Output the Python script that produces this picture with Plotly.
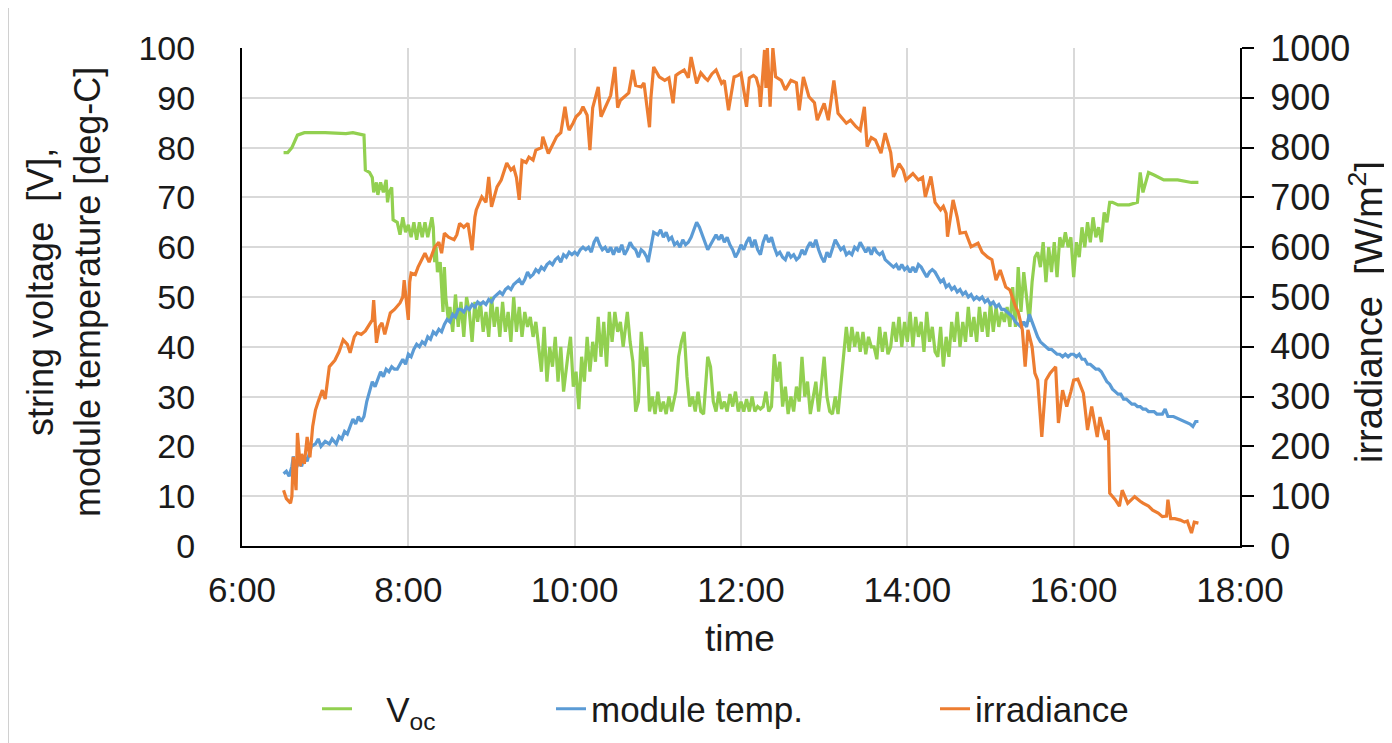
import plotly.graph_objects as go

# ---------------- data (time of day, value) ----------------
VOC = [
("6:30",79),("6:33",79),("6:36",80),("6:40",82.5),("6:45",83),("7:00",83),("7:15",82.8),("7:20",83),
("7:28",82.5),("7:29",75.5),("7:32",75),("7:34",74),("7:35",71),("7:37",73),("7:38",70.5),("7:40",73),
("7:42",71),("7:44",73.5),("7:45",69),("7:46",71),("7:48",72),("7:49",65.5),("7:52",65),("7:54",62.5),
("7:56",66),("7:58",63),("8:00",64.5),("8:02",62),("8:04",65),("8:06",61.5),("8:08",65),("8:10",62),
("8:12",65),("8:14",62),("8:17",66),("8:18",64),("8:19",57),("8:20",60),("8:21",55),("8:23",57),
("8:25",47),("8:26",56),("8:27",50),("8:29",45),("8:30",48),("8:32",43),("8:34",50.5),("8:36",44),
("8:38",49),("8:40",42),("8:42",50),("8:44",47),("8:46",41),("8:48",49),("8:50",45),("8:52",49),
("8:54",43),("8:56",47),("8:58",42),("9:00",50),("9:02",44),("9:04",48),("9:06",42),("9:08",49),
("9:10",43),("9:12",47),("9:14",41),("9:16",50),("9:18",43),("9:20",48),("9:22",42),("9:24",47),
("9:26",44),("9:28",46),("9:30",42),("9:32",45),("9:34",40),("9:36",35),("9:38",44),("9:40",33),
("9:42",40),("9:44",36),("9:46",42),("9:48",33),("9:50",40),("9:52",31),("9:55",38),("9:57",42),
("9:59",32),("10:01",35),("10:03",27.5),("10:05",38),("10:07",33),("10:09",42),("10:11",35),("10:13",41),
("10:15",37),("10:17",46),("10:19",38),("10:21",45),("10:23",36),("10:25",47),("10:27",41),("10:29",47),
("10:31",43),("10:33",45),("10:35",40),("10:38",47),("10:40",41),("10:42",37),("10:44",27),("10:46",29),
("10:48",43),("10:50",36),("10:52",40),("10:54",27),("10:56",30),("10:58",26.5),("11:00",31),("11:02",27),
("11:04",29),("11:06",26.5),("11:08",30),("11:10",27),("11:13",31),("11:15",38),("11:17",41),("11:19",43),
("11:21",34),("11:23",28),("11:25",30),("11:27",27),("11:29",31),("11:31",27),("11:33",26.5),("11:36",38),
("11:38",36),("11:40",29),("11:42",27),("11:44",31),("11:46",27.5),("11:48",29),("11:50",27),("11:52",30.5),
("11:54",28),("11:56",31),("11:58",27),("12:00",29),("12:02",27),("12:04",29.5),("12:06",27),("12:08",30),
("12:10",27),("12:12",28),("12:14",27.5),("12:16",28),("12:18",31),("12:20",27),("12:22",28),("12:24",38.5),
("12:26",33),("12:28",37),("12:30",28),("12:32",32),("12:34",26.5),("12:36",30),("12:38",27),("12:40",32),
("12:42",29),("12:44",38),("12:46",30),("12:48",33),("12:50",26.5),("12:52",30),("12:54",33),("12:56",27),
("12:58",32),("13:00",38),("13:02",30),("13:04",27),("13:06",26.5),("13:08",30),("13:10",26.5),("13:12",32),
("13:14",38),("13:16",44),("13:18",39),("13:20",44),("13:22",40),("13:24",43),("13:26",39),("13:28",43),
("13:30",38.5),("13:32",42),("13:34",40),("13:36",40),("13:38",37.5),("13:40",44),("13:42",39),("13:44",43),
("13:46",38.5),("13:48",40),("13:50",45),("13:52",41),("13:54",46),("13:56",40),("13:58",45),("14:00",41),
("14:02",47),("14:04",40),("14:06",46),("14:08",42),("14:10",45),("14:12",39),("14:14",47),("14:16",41),
("14:18",44),("14:20",39),("14:22",38),("14:24",44),("14:26",36),("14:28",42),("14:30",38),("14:32",45),
("14:34",41),("14:36",47),("14:38",40),("14:40",45),("14:42",41),("14:44",48),("14:46",42),("14:48",46),
("14:50",41),("14:52",48),("14:54",43),("14:56",47),("14:58",42),("15:00",49),("15:02",43),("15:04",48),
("15:06",44),("15:08",47),("15:10",45),("15:12",48),("15:14",44),("15:16",52),("15:18",44),("15:20",56),
("15:22",47),("15:24",55),("15:26",50),("15:28",45),("15:30",53),("15:32",58),("15:34",59),("15:36",56),
("15:38",61),("15:40",53),("15:42",60),("15:44",55),("15:46",61),("15:48",54),("15:50",62),("15:52",60),
("15:54",63),("15:56",60),("15:58",62),("16:00",54),("16:02",61),("16:04",58),("16:06",64),("16:08",60),
("16:10",65),("16:12",61),("16:14",66),("16:16",62),("16:18",64),("16:20",61),("16:22",67),("16:24",65),
("16:26",69),("16:28",69),("16:32",68.5),("16:40",68.5),("16:46",69),("16:48",75),("16:49",73),("16:50",71),
("16:51",72),("16:54",75),("16:58",74.5),("17:05",73.5),("17:15",73.5),("17:25",73),("17:30",73),
]

TEMP = [
("6:30",14.5),("6:32",15),("6:34",14),("6:36",16),("6:37",18),("6:39",15.5),("6:41",17),("6:43",16),
("6:45",18),("6:47",17),("6:50",20),("6:53",20.5),("6:55",21.5),("6:57",20),("7:00",21),("7:03",20.5),
("7:05",21.5),("7:08",20.5),("7:10",22),("7:12",21.5),("7:14",23),("7:16",22.5),("7:18",24),("7:20",25.5),
("7:22",24.5),("7:24",26),("7:26",25),("7:28",26),("7:30",29),("7:32",31),("7:34",33),("7:36",32),
("7:38",33.5),("7:40",35),("7:42",34),("7:44",35.5),("7:46",35),("7:48",36),("7:50",35.5),("7:52",35.5),
("7:54",36.5),("7:56",37.5),("7:58",36.5),("8:00",38.5),("8:02",38),("8:04",39.5),("8:06",40.5),("8:08",40),
("8:10",41),("8:12",40.5),("8:14",42),("8:16",41.5),("8:18",43),("8:20",42.5),("8:22",43.5),("8:24",43),
("8:26",44.5),("8:28",45.5),("8:30",45),("8:32",46.5),("8:34",46),("8:36",47.5),("8:38",47.5),("8:40",47),
("8:42",48),("8:44",47.5),("8:46",48.5),("8:48",48),("8:50",49),("8:52",48.5),("8:54",49),("8:56",48.5),
("8:58",49.5),("9:00",49),("9:02",50),("9:04",50.5),("9:06",51),("9:08",50.5),("9:10",51.5),("9:12",52),
("9:14",51.5),("9:16",52.5),("9:18",53),("9:20",53.5),("9:22",52.5),("9:24",53.5),("9:26",55),("9:28",54),
("9:30",54.5),("9:32",55.5),("9:34",55),("9:36",56),("9:38",55.5),("9:40",56.5),("9:42",57),("9:44",56.5),
("9:46",57.5),("9:48",58),("9:50",57),("9:52",58.5),("9:54",58),("9:56",59),("9:58",58.5),("10:00",59),
("10:02",58.5),("10:04",59.5),("10:06",60),("10:08",59.5),("10:10",60),("10:12",59),("10:14",61),("10:16",62),
("10:18",60.5),("10:20",59.5),("10:22",60),("10:24",59),("10:26",60),("10:28",58.5),("10:30",60),("10:32",59),
("10:34",60.5),("10:36",58.5),("10:38",59.5),("10:40",61),("10:42",60),("10:44",59.5),("10:46",58),("10:48",59.5),
("10:50",59),("10:52",58),("10:53",57),("10:55",60.5),("10:57",63),("11:00",62.5),("11:02",63.5),("11:04",62),
("11:06",63),("11:08",61.5),("11:10",62),("11:12",60.5),("11:14",61),("11:16",60),("11:18",61.5),("11:20",60.5),
("11:22",61),("11:24",62),("11:26",63.5),("11:28",65),("11:30",64),("11:32",62.5),("11:34",61),("11:36",59.5),
("11:38",60.5),("11:40",61.5),("11:42",62.5),("11:44",61.5),("11:46",62.5),("11:48",61),("11:50",62),("11:52",60.5),
("11:54",59.5),("11:56",58),("11:58",59),("12:00",60.5),("12:02",59.5),("12:04",61),("12:06",62),("12:08",60),
("12:10",61.5),("12:12",59.5),("12:14",58.5),("12:16",61),("12:18",62.5),("12:20",61),("12:22",62),("12:24",60),
("12:26",58.5),("12:28",59),("12:30",58),("12:32",57.5),("12:34",59),("12:36",58),("12:38",58.5),("12:40",57.5),
("12:42",58),("12:44",59.5),("12:46",58.5),("12:48",60),("12:50",61),("12:52",60),("12:54",61.5),("12:56",59.5),
("12:58",58),("13:00",57),("13:02",59),("13:04",58),("13:06",60),("13:08",61.5),("13:10",60.5),("13:12",59.5),
("13:14",60),("13:16",58.5),("13:18",59),("13:20",58.5),("13:22",60),("13:24",59.5),("13:26",61),("13:28",60),
("13:30",59),("13:32",60),("13:34",58.5),("13:36",60),("13:38",59),("13:40",58.5),("13:42",59),("13:44",57.5),
("13:46",57),("13:48",56.5),("13:50",56),("13:52",56.5),("13:54",55.5),("13:56",56.5),("13:58",55.5),("14:00",56),
("14:02",55),("14:04",56),("14:06",55),("14:08",56.5),("14:10",56),("14:12",55),("14:14",54),("14:16",55),
("14:18",55.5),("14:20",55),("14:22",54),("14:24",53),("14:26",53.5),("14:28",52),("14:30",52.5),("14:32",51.5),
("14:34",52),("14:36",51),("14:38",51.5),("14:40",50.5),("14:42",51),("14:44",50),("14:46",50.5),("14:48",49.5),
("14:50",50),("14:52",49.5),("14:54",50),("14:56",49),("14:58",49.5),("15:00",48.5),("15:02",49),("15:04",48),
("15:06",48.5),("15:08",47.5),("15:10",47.5),("15:12",47),("15:14",46.5),("15:16",46),("15:18",45),("15:20",44.5),
("15:22",44),("15:24",45),("15:26",44),("15:28",46.5),("15:30",45),("15:32",43.5),("15:34",42),("15:36",41),
("15:38",40.5),("15:40",40),("15:42",39.5),("15:44",39.5),("15:46",39),("15:48",38.5),("15:50",38.5),("15:52",38),
("15:54",38.5),("15:56",38),("15:58",38.5),("16:00",38.5),("16:02",38),("16:04",38.5),("16:06",37.5),("16:08",37.5),
("16:10",36.5),("16:12",36.5),("16:14",36),("16:16",35.5),("16:18",35.5),("16:20",35),("16:22",34),("16:24",33),
("16:26",32.5),("16:28",31.5),("16:30",31),("16:32",30.5),("16:34",30.5),("16:36",29.5),("16:38",29.5),("16:40",29),
("16:42",28.5),("16:44",28.5),("16:46",28),("16:48",28),("16:50",27.5),("16:52",27.5),("16:54",27),("16:56",27),
("16:58",27),("17:00",26.5),("17:02",26.5),("17:04",26.5),("17:06",27.5),("17:08",26),("17:12",26),("17:16",25.5),
("17:20",25),("17:24",24.5),("17:26",24),("17:28",25),("17:30",25),
]

IRR = [
("6:30",112),("6:32",95),("6:35",86),("6:36",100),("6:37",179),("6:39",112),("6:40",227),("6:42",160),
("6:43",185),("6:45",165),("6:47",219),("6:49",178),("6:51",240),("6:53",273),("6:55",290),("6:58",313),
("7:00",295),("7:03",360),("7:07",373),("7:10",390),("7:13",414),("7:16",405),("7:18",388),("7:21",420),
("7:23",428),("7:26",425),("7:29",432),("7:31",440),("7:34",454),("7:35",494),("7:37",408),("7:39",440),
("7:41",448),("7:43",425),("7:47",468),("7:50",475),("7:54",488),("7:56",500),("7:57",534),("8:00",454),
("8:01",530),("8:02",548),("8:05",545),("8:07",560),("8:10",575),("8:12",588),("8:15",570),("8:19",600),
("8:22",610),("8:24",588),("8:26",628),("8:29",620),("8:33",615),("8:35",625),("8:37",648),("8:40",640),
("8:43",648),("8:46",594),("8:48",660),("8:49",675),("8:53",701),("8:56",690),("8:58",741),("9:00",681),
("9:04",721),("9:07",735),("9:11",769),("9:14",755),("9:16",760),("9:18",740),("9:20",695),("9:22",774),
("9:25",770),("9:27",781),("9:30",775),("9:32",795),("9:36",800),("9:37",822),("9:41",788),("9:44",805),
("9:47",822),("9:50",830),("9:53",882),("9:55",845),("9:56",835),("9:59",850),("10:01",862),("10:04",870),
("10:06",882),("10:09",865),("10:11",795),("10:13",880),("10:15",900),("10:17",922),("10:19",862),("10:22",880),
("10:25",896),("10:26",905),("10:29",962),("10:31",880),("10:33",895),("10:36",902),("10:39",910),("10:42",956),
("10:44",925),("10:48",922),("10:50",930),("10:54",841),("10:55",900),("10:57",962),("11:01",942),("11:05",935),
("11:08",940),("11:11",889),("11:13",945),("11:15",949),("11:19",956),("11:22",940),("11:24",982),("11:28",929),
("11:31",950),("11:34",940),("11:36",935),("11:39",948),("11:42",956),("11:46",929),("11:48",935),("11:51",875),
("11:54",925),("11:55",942),("11:58",945),("12:00",949),("12:04",882),("12:06",940),("12:09",945),("12:11",940),
("12:13",920),("12:14",882),("12:17",996),("12:18",920),("12:19",1000),("12:21",882),("12:23",1000),("12:25",942),
("12:29",935),("12:32",916),("12:36",935),("12:40",930),("12:42",875),("12:45",942),("12:49",902),("12:53",890),
("12:55",855),("12:58",875),("13:00",889),("13:03",855),("13:05",900),("13:07",935),("13:10",869),("13:13",860),
("13:16",849),("13:19",855),("13:23",842),("13:26",835),("13:29",882),("13:31",802),("13:34",820),("13:37",815),
("13:41",789),("13:44",829),("13:48",790),("13:50",741),("13:54",768),("13:57",755),("13:59",735),("14:04",748),
("14:08",735),("14:11",740),("14:13",701),("14:17",742),("14:20",690),("14:24",675),("14:26",682),("14:28",668),
("14:29",621),("14:33",695),("14:36",660),("14:38",628),("14:42",630),("14:46",601),("14:51",608),("14:54",590),
("14:58",580),("15:01",575),("15:04",534),("15:07",554),("15:11",520),("15:14",514),("15:18",481),("15:20",470),
("15:23",434),("15:25",360),("15:27",434),("15:30",400),("15:32",347),("15:34",333),("15:37",219),("15:40",333),
("15:43",347),("15:47",360),("15:49",247),("15:52",313),("15:55",280),("15:58",310),("16:00",333),("16:03",335),
("16:07",307),("16:10",233),("16:13",280),("16:17",219),("16:19",259),("16:23",213),("16:25",233),("16:26",106),
("16:30",93),("16:33",80),("16:35",112),("16:39",86),("16:42",95),("16:44",99),("16:48",90),("16:50",86),
("16:54",80),("16:57",72),("17:01",66),("17:04",59),("17:07",60),("17:08",93),("17:10",55),("17:13",55),
("17:17",52),("17:20",48),("17:22",50),("17:25",26),("17:27",48),("17:30",46),
]

X_TICK_START = "6:00"
X_TICK_END = "18:00"

GREEN = "#92D050"
BLUE = "#5B9BD5"
ORANGE = "#ED7D31"
FONT = "Liberation Sans, Arial, sans-serif"
TXT = "#1a1a1a"
TICK_SIZE = 34
RTICK_SIZE = 36
TITLE_SIZE = 36
RTITLE_SIZE = 38
LEGEND_SIZE = 35
NB = "\u00a0"


def to_dt(t):
    h, m = t.split(":")
    return f"2024-01-01 {int(h):02d}:{m}:00"


def split(series):
    return [to_dt(t) for t, _ in series], [v for _, v in series]


fig = go.Figure()
vx, vy = split(VOC)
tx, ty = split(TEMP)
ix, iy = split(IRR)

LW = 3.2
fig.add_trace(go.Scatter(x=vx, y=vy, mode="lines", name=NB * 3 + "V<sub>oc</sub>",
                         line=dict(color=GREEN, width=LW), legend="legend"))
fig.add_trace(go.Scatter(x=tx, y=ty, mode="lines", name="module temp.",
                         line=dict(color=BLUE, width=LW), legend="legend2"))
fig.add_trace(go.Scatter(x=ix, y=iy, mode="lines", name="irradiance", yaxis="y2",
                         line=dict(color=ORANGE, width=LW), legend="legend3"))

# page is offset by the 8px body margin of the html page
OFF = 8
W, H = 1392, 743
PL, PR, PT, PB = 242, 1240, 48, 546          # plot area in page pixels
L = PL - OFF
T = PT - OFF
R = W - (PR - OFF)
B = H - (PB - OFF)
pw = PR - PL
ph = PB - PT


def px_x(p):          # page px -> paper x
    return (p - PL) / pw


def px_y(p):          # page px -> paper y
    return (PB - p) / ph


def cx(p):            # page px -> container x
    return (p - OFF) / W


def cy(p):            # page px -> container y
    return 1 - (p - OFF) / H


leg_common = dict(orientation="h", xref="container", yref="container", yanchor="middle",
                  xanchor="left", font=dict(family=FONT, size=LEGEND_SIZE, color=TXT),
                  bgcolor="rgba(0,0,0,0)", borderwidth=0, tracegroupgap=0)

fig.update_layout(
    width=W, height=H, autosize=False,
    margin=dict(l=L, r=R, t=T, b=B),
    paper_bgcolor="white", plot_bgcolor="white",
    font=dict(family=FONT, size=TICK_SIZE, color=TXT),
    showlegend=True,
    legend=dict(x=cx(317), y=cy(709), **leg_common),
    legend2=dict(x=cx(551), y=cy(709), **leg_common),
    legend3=dict(x=cx(935), y=cy(709), **leg_common),
    xaxis=dict(
        type="date", range=[to_dt(X_TICK_START), to_dt(X_TICK_END)],
        dtick=2 * 3600 * 1000, tick0=to_dt(X_TICK_START), tickformat="%-H:%M",
        showgrid=True, gridcolor="#d9d9d9", gridwidth=2,
        showline=True, linecolor="#000000", linewidth=2,
        ticks="", ticklabelstandoff=12, zeroline=False,
        tickfont=dict(family=FONT, size=TICK_SIZE + 1, color=TXT),
    ),
    yaxis=dict(
        range=[0, 100], dtick=10, showgrid=True, gridcolor="#d9d9d9", gridwidth=2,
        showline=True, linecolor="#000000", linewidth=2, ticks="", zeroline=False,
        ticklabelstandoff=38, tickfont=dict(family=FONT, size=TICK_SIZE, color=TXT),
    ),
    yaxis2=dict(
        range=[0, 1000], dtick=100, overlaying="y", side="right", showgrid=False,
        showline=True, linecolor="#000000", linewidth=2, ticks="outside", ticklen=12,
        tickwidth=2, tickcolor="#000000", zeroline=False, ticklabelstandoff=9,
        tickfont=dict(family=FONT, size=RTICK_SIZE, color=TXT),
    ),
    annotations=[
        dict(text="string voltage" + NB * 2 + "[V],<br>module temperature [deg-C]",
             xref="paper", yref="paper",
             x=px_x(64), y=px_y(292), textangle=-90, showarrow=False, xanchor="center",
             yanchor="middle", font=dict(family=FONT, size=TITLE_SIZE, color=TXT)),
        dict(text="irradiance" + NB * 2 + "[W/m<sup>2</sup>]", xref="paper", yref="paper",
             x=px_x(1366), y=px_y(312), textangle=-90, showarrow=False, xanchor="center",
             yanchor="middle", font=dict(family=FONT, size=RTITLE_SIZE, color=TXT)),
        dict(text="time", xref="paper", yref="paper", x=px_x(740), y=px_y(638),
             showarrow=False, xanchor="center", yanchor="middle",
             font=dict(family=FONT, size=TITLE_SIZE + 1, color=TXT)),
    ],
    shapes=[dict(type="line", xref="paper", yref="paper", x0=px_x(OFF + 0.5), x1=px_x(OFF + 0.5),
                 y0=px_y(OFF), y1=px_y(H + OFF), line=dict(color="#d0d0d0", width=1))],
)

fig.write_html("out.html")
